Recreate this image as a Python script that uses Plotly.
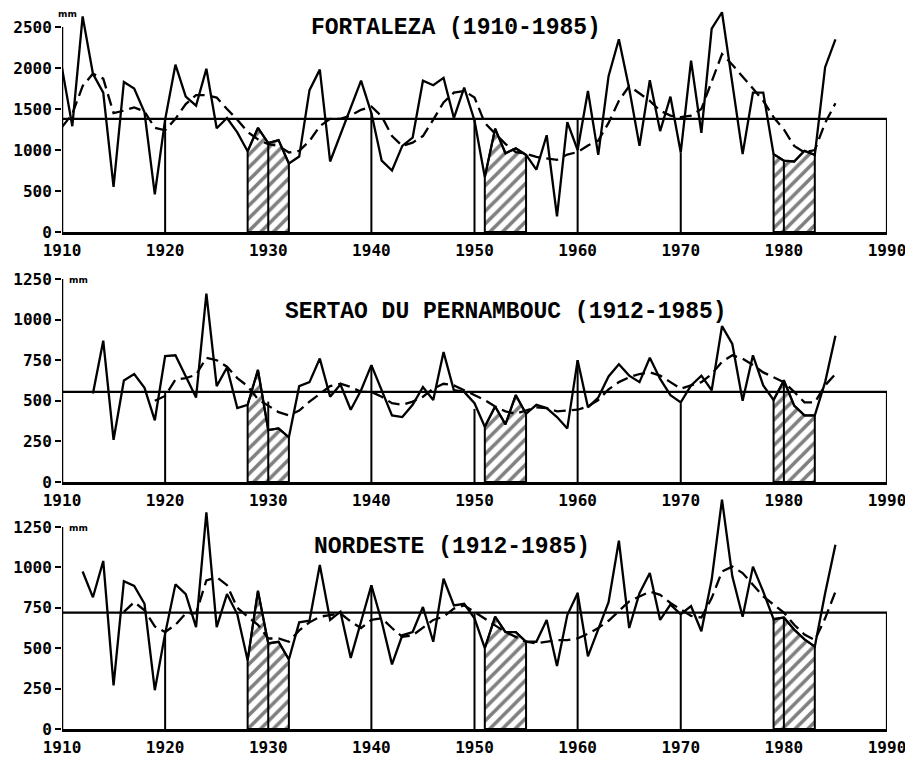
import plotly.graph_objects as go

# ---------------- data ----------------
TITLES = ["FORTALEZA (1910-1985)", "SERTAO DU PERNAMBOUC (1912-1985)", "NORDESTE (1912-1985)"]
X_TICKS = [1910, 1920, 1930, 1940, 1950, 1960, 1970, 1980, 1990]
DECADES = [1920, 1930, 1940, 1950, 1960, 1970, 1980]
DROUGHTS = [(1928, 1932), (1951, 1955), (1979, 1983)]

fort_start = 1910
fort_rain = [2000, 1290, 2630, 1930, 1700, 550, 1830, 1750, 1460, 460,
             1370, 2040, 1650, 1540, 1990, 1265, 1390, 1215, 985, 1270,
             1085, 1120, 835, 920, 1730, 1980, 860, 1190, 1520, 1845,
             1450, 870, 750, 1050, 1150, 1845, 1790, 1880, 1390, 1760,
             1360, 670, 1260, 960, 1020, 940, 760, 1180, 190, 1340,
             1000, 1720, 940, 1900, 2350, 1750, 1050, 1850, 1230, 1650,
             970, 2090, 1210, 2480, 2680, 1800, 950, 1700, 1700, 950,
             870, 860, 990, 940, 2010, 2350]
fort_smooth_start = 1910
fort_smooth = [1280, 1440, 1780, 1930, 1870, 1450, 1480, 1520, 1470, 1270,
               1240, 1380, 1560, 1670, 1670, 1640, 1500, 1370, 1220, 1130,
               1070, 1050, 970, 990, 1110, 1290, 1380, 1380, 1420, 1490,
               1530, 1410, 1170, 1050, 1090, 1170, 1370, 1580, 1700, 1720,
               1640, 1330, 1200, 1075, 975, 955, 915, 895, 880, 945,
               975, 1055, 1115, 1330, 1600, 1780, 1690, 1600, 1480, 1420,
               1400, 1420, 1500, 1840, 2170, 2040, 1900, 1750, 1600, 1400,
               1250, 1050, 970, 1000, 1330, 1570]
fort_mean = 1380
fort_decade_tops = [1380, 1090, 1450, 1380, 1380, 970, 880]

sert_start = 1913
sert_rain = [545, 870, 260, 625, 665, 580, 380,
             775, 780, 645, 520, 1160, 590, 705, 455, 475, 690,
             320, 330, 275, 590, 615, 760, 525, 600, 445, 565,
             720, 565, 410, 400, 475, 585, 505, 800, 565, 555,
             485, 340, 465, 355, 535, 420, 475, 455, 400, 330,
             750, 460, 520, 650, 725, 655, 615, 765, 635, 535,
             490, 595, 655, 565, 960, 850, 500, 780, 595, 505,
             625, 470, 410, 410, 615, 900]
sert_smooth_start = 1919
sert_smooth = [500,
               530, 630, 640, 660, 765, 750, 710, 640, 590, 510,
               470, 430, 410, 440, 495, 545, 590, 605, 585, 555,
               555, 525, 485, 475, 495, 525, 575, 605, 595, 565,
               535, 505, 465, 435, 420, 440, 460, 455, 435, 440,
               445, 465, 505, 570, 615, 645, 665, 675, 655, 615,
               575, 595, 615, 665, 740, 780, 760, 720, 675, 645,
               615, 555, 490, 490, 595, 665]
sert_mean = 555
sert_decade_tops = [555, 495, 720, 450, 750, 485, 630]

nord_start = 1912
nord_rain = [975, 815, 1040, 270, 915, 885, 775, 240,
             590, 895, 835, 630, 1340, 630, 835, 710, 425, 855,
             530, 540, 430, 660, 670, 1015, 675, 726, 440, 665,
             890, 665, 400, 580, 600, 755, 540, 930, 765, 775,
             685, 500, 695, 600, 600, 540, 540, 675, 390, 705,
             840, 450, 615, 785, 1165, 625, 840, 965, 675, 770,
             710, 760, 605, 925, 1420, 945, 695, 1005, 850, 680,
             690, 615, 555, 510, 840, 1140]
nord_smooth_start = 1916
nord_smooth = [725, 785, 735, 635,
               600, 645, 715, 715, 920, 940, 890, 750, 695, 645,
               560, 560, 540, 610, 660, 695, 705, 715, 665, 625,
               675, 685, 625, 570, 580, 625, 675, 695, 745, 765,
               725, 685, 645, 600, 570, 540, 530, 540, 550, 550,
               560, 590, 625, 670, 730, 790, 820, 850, 830, 780,
               740, 700, 690, 810, 975, 1005, 965, 895, 820, 770,
               720, 645, 585, 550, 685, 850]
nord_mean = 720
nord_decade_tops = [590, 530, 890, 716, 845, 718, 690]

Y_TICKS = [[0, 500, 1000, 1500, 2000, 2500],
           [0, 250, 500, 750, 1000, 1250],
           [0, 250, 500, 750, 1000, 1250]]
Y_TOP = [2500, 1250, 1250]
Y_RANGE = [[0, 2700], [0, 1250], [0, 1450]]

# ---------------- layout geometry ----------------
PAGE_W, PAGE_H = 913, 762
OFF = 8                      # default body margin of the html page
W, H = PAGE_W - OFF, PAGE_H - OFF


def px_x(p):
    return (p - OFF) / W


def px_y(p):
    return (PAGE_H - p) / H


X_DOMAIN = [px_x(62), px_x(887)]
Y_DOMAINS = [[px_y(232), px_y(10.6)],
             [px_y(482), px_y(279)],
             [px_y(729), px_y(494.7)]]
TITLE_POS = [(px_x(456), px_y(28)), (px_x(506), px_y(312)), (px_x(452), px_y(547))]
MM_POS = [(px_x(67), px_y(14)), (px_x(78), px_y(280)), (px_x(78), px_y(528))]

TICK_FONT = dict(family="DejaVu Sans Mono", size=16, color="black", weight="bold")
TITLE_FONT = dict(family="Liberation Mono", size=23, color="black", weight="bold")

panels = [
    (fort_start, fort_rain, fort_smooth_start, fort_smooth, fort_mean, fort_decade_tops),
    (sert_start, sert_rain, sert_smooth_start, sert_smooth, sert_mean, sert_decade_tops),
    (nord_start, nord_rain, nord_smooth_start, nord_smooth, nord_mean, nord_decade_tops),
]

fig = go.Figure()
layout = dict(width=W, height=H, margin=dict(l=0, r=0, t=0, b=0, autoexpand=False),
              paper_bgcolor="white", plot_bgcolor="rgba(0,0,0,0)", showlegend=False)
annotations = []

for i, (start, rain, sstart, smooth, mean, tops) in enumerate(panels):
    n = i + 1
    xa = "x" if n == 1 else f"x{n}"
    ya = "y" if n == 1 else f"y{n}"
    years = list(range(start, start + len(rain)))
    syears = list(range(sstart, sstart + len(smooth)))
    lookup = dict(zip(years, rain))

    # hatched drought periods
    for (s, e) in DROUGHTS:
        px = [s] + list(range(s, e + 1)) + [e, s]
        py = [0] + [lookup[y] for y in range(s, e + 1)] + [0, 0]
        fig.add_trace(go.Scatter(x=px, y=py, xaxis=xa, yaxis=ya, mode="lines",
                                 fill="toself", fillcolor="white",
                                 fillpattern=dict(shape="/", fgcolor="black", bgcolor="white",
                                                  size=9, solidity=0.4),
                                 line=dict(color="black", width=2), hoverinfo="skip"))

    # decade verticals
    vx, vy = [], []
    for d, t in zip(DECADES, tops):
        vx += [d, d, None]
        vy += [0, t, None]
    fig.add_trace(go.Scatter(x=vx, y=vy, xaxis=xa, yaxis=ya, mode="lines",
                             line=dict(color="black", width=2), hoverinfo="skip"))
    # mean line + right edge of box
    fig.add_trace(go.Scatter(x=[X_TICKS[0], X_TICKS[-1], X_TICKS[-1]], y=[mean, mean, 0],
                             xaxis=xa, yaxis=ya, mode="lines",
                             line=dict(color="black", width=2.2), hoverinfo="skip"))
    # y axis line
    fig.add_trace(go.Scatter(x=[X_TICKS[0], X_TICKS[0]], y=[0, Y_TOP[i]],
                             xaxis=xa, yaxis=ya, mode="lines",
                             line=dict(color="black", width=2.5), hoverinfo="skip"))
    # smoothed series (dashed)
    fig.add_trace(go.Scatter(x=syears, y=smooth, xaxis=xa, yaxis=ya, mode="lines",
                             line=dict(color="black", width=2.3, dash="12px,6px"),
                             hoverinfo="skip"))
    # annual rainfall
    fig.add_trace(go.Scatter(x=years, y=rain, xaxis=xa, yaxis=ya, mode="lines",
                             line=dict(color="black", width=2.3), hoverinfo="skip"))

    xkey = "xaxis" if n == 1 else f"xaxis{n}"
    ykey = "yaxis" if n == 1 else f"yaxis{n}"
    layout[xkey] = dict(domain=X_DOMAIN, range=[X_TICKS[0], X_TICKS[-1]], anchor=ya,
                        tickvals=X_TICKS, ticktext=[str(v) for v in X_TICKS],
                        ticks="", showgrid=False, zeroline=False, automargin=False,
                        showline=True, linecolor="black", linewidth=3,
                        ticklabelstandoff=2,
                        tickfont=TICK_FONT, fixedrange=True)
    layout[ykey] = dict(domain=Y_DOMAINS[i], range=Y_RANGE[i], anchor=xa,
                        tickvals=Y_TICKS[i], ticks="outside", ticklen=6, tickwidth=2,
                        tickcolor="black", showgrid=False, zeroline=False, showline=False,
                        automargin=False,
                        tickfont=TICK_FONT, fixedrange=True)
    tx, ty = TITLE_POS[i]
    annotations.append(dict(text=TITLES[i], x=tx, y=ty, xref="paper", yref="paper",
                            showarrow=False, font=TITLE_FONT, xanchor="center", yanchor="middle"))
    mx, my = MM_POS[i]
    annotations.append(dict(text="mm", x=mx, y=my, xref="paper", yref="paper",
                            showarrow=False, xanchor="center", yanchor="middle",
                            font=dict(family="DejaVu Sans", size=9, color="black", weight="bold")))

layout["annotations"] = annotations
fig.update_layout(**layout)
fig.write_html("out.html")
